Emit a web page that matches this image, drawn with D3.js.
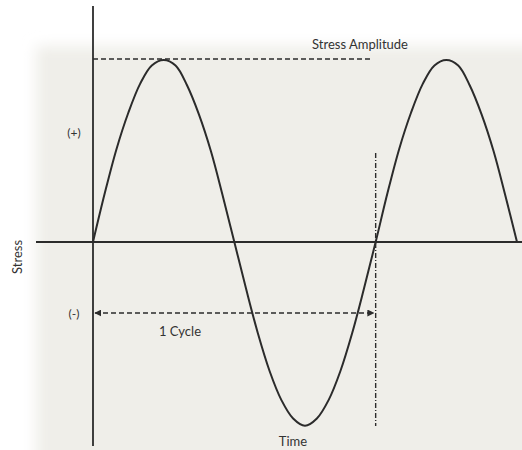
<!DOCTYPE html>
<html>
<head>
<meta charset="utf-8">
<script src="https://cdn.jsdelivr.net/npm/d3@7"></script>
<style>
  body { margin: 0; background: #fff; }
  text { font-family: Lato, "Open Sans", sans-serif; fill: #333; }
</style>
</head>
<body>
<svg id="chart"></svg>
<script>
// Time in cycles, stress as fraction of the amplitude
const timeCycles = [0, 0.042, 0.083, 0.125, 0.167, 0.208, 0.25, 0.292, 0.333, 0.375, 0.417, 0.458, 0.5,
  0.542, 0.583, 0.625, 0.667, 0.708, 0.75, 0.792, 0.833, 0.875, 0.917, 0.958, 1.0,
  1.042, 1.083, 1.125, 1.167, 1.208, 1.25, 1.292, 1.333, 1.375, 1.417, 1.458, 1.5];
const stress = [0, 0.27, 0.51, 0.71, 0.87, 0.97, 1.0, 0.97, 0.86, 0.7, 0.5, 0.26, 0,
  -0.26, -0.5, -0.71, -0.87, -0.97, -1.01, -0.97, -0.87, -0.71, -0.5, -0.26, 0,
  0.27, 0.51, 0.71, 0.87, 0.97, 1.0, 0.97, 0.86, 0.7, 0.5, 0.26, 0];
const amplitudeLabel = "Stress Amplitude";
const cycleLabel = "1 Cycle";
const signLabels = ["(+)", "(-)"];
const axisLabels = { x: "Time", y: "Stress" };

const W = 522, H = 450;
const svg = d3.select("#chart").attr("width", W).attr("height", H);

const x = d3.scaleLinear().domain([0, 1.5]).range([93, 517]);
const y = d3.scaleLinear().domain([-1, 1]).range([424, 60]);

const defs = svg.append("defs");
defs.append("filter").attr("id", "soft")
  .attr("x", "-10%").attr("y", "-10%").attr("width", "130%").attr("height", "130%")
  .append("feGaussianBlur").attr("stdDeviation", 7);

// paper-like background
svg.append("rect")
  .attr("x", 36).attr("y", 46)
  .attr("width", W).attr("height", H)
  .attr("fill", "#efeee9")
  .attr("filter", "url(#soft)");

const ink = "#2b2b2b";

// axes
svg.append("line")
  .attr("x1", x(0)).attr("x2", x(0))
  .attr("y1", 6).attr("y2", 446)
  .attr("stroke", ink).attr("stroke-width", 1.8);

svg.append("line")
  .attr("x1", 36).attr("x2", W)
  .attr("y1", y(0)).attr("y2", y(0))
  .attr("stroke", ink).attr("stroke-width", 1.8);

// amplitude dashed line
svg.append("line")
  .attr("x1", x(0)).attr("x2", x(0.99))
  .attr("y1", y(1) - 1).attr("y2", y(1) - 1)
  .attr("stroke", ink).attr("stroke-width", 1.4)
  .attr("stroke-dasharray", "5,3");

// one-cycle vertical marker
svg.append("line")
  .attr("x1", x(1)).attr("x2", x(1))
  .attr("y1", 153).attr("y2", 426)
  .attr("stroke", ink).attr("stroke-width", 1.4)
  .attr("stroke-dasharray", "5,2,1,2");

// arrow markers
["start", "end"].forEach(k => {
  defs.append("marker")
    .attr("id", "arrow-" + k)
    .attr("viewBox", "0 0 10 10")
    .attr("refX", 9).attr("refY", 5)
    .attr("markerWidth", 7).attr("markerHeight", 7)
    .attr("markerUnits", "userSpaceOnUse")
    .attr("orient", k === "start" ? "auto-start-reverse" : "auto")
    .append("path")
    .attr("d", "M0,0L10,5L0,10z")
    .attr("fill", ink);
});

const arrowY = 313;
svg.append("line")
  .attr("x1", x(0) + 2).attr("x2", x(1) - 2)
  .attr("y1", arrowY).attr("y2", arrowY)
  .attr("stroke", ink).attr("stroke-width", 1.4)
  .attr("stroke-dasharray", "5,3")
  .attr("marker-start", "url(#arrow-start)")
  .attr("marker-end", "url(#arrow-end)");

// the wave
const line = d3.line()
  .curve(d3.curveCatmullRom)
  .x((d, i) => x(timeCycles[i]))
  .y(d => y(d));

svg.append("path")
  .datum(stress)
  .attr("fill", "none")
  .attr("stroke", ink)
  .attr("stroke-width", 2)
  .attr("d", line);

// labels
svg.append("text")
  .attr("x", 360).attr("y", 49)
  .attr("text-anchor", "middle")
  .attr("font-size", 13)
  .text(amplitudeLabel);

svg.append("text")
  .attr("x", 74).attr("y", 137)
  .attr("text-anchor", "middle")
  .attr("font-size", 12)
  .text(signLabels[0]);

svg.append("text")
  .attr("x", 74).attr("y", 318)
  .attr("text-anchor", "middle")
  .attr("font-size", 12)
  .text(signLabels[1]);

svg.append("text")
  .attr("x", 180).attr("y", 336)
  .attr("text-anchor", "middle")
  .attr("font-size", 13)
  .text(cycleLabel);

svg.append("text")
  .attr("x", 293).attr("y", 446)
  .attr("text-anchor", "middle")
  .attr("font-size", 13)
  .text(axisLabels.x);

svg.append("text")
  .attr("transform", "translate(22,257) rotate(-90)")
  .attr("text-anchor", "middle")
  .attr("font-size", 13)
  .text(axisLabels.y);
</script>
</body>
</html>
